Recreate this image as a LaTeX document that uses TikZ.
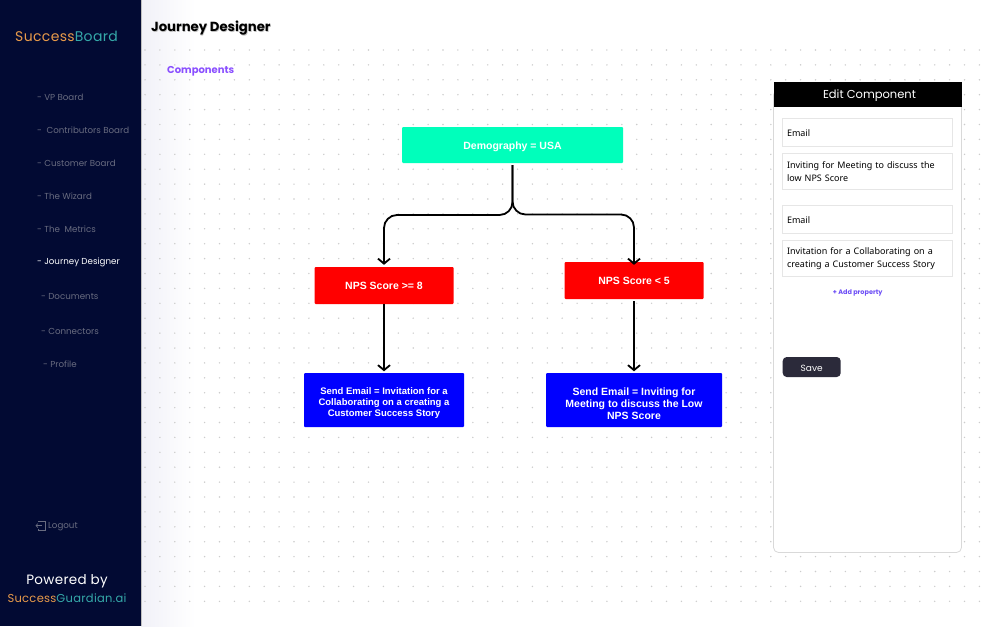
\documentclass[tikz,border=0pt]{standalone}
\usepackage{fontspec}
\setmainfont{Poppins}
\newfontfamily\logofont[LetterSpace=2.5]{Poppins}
\newfontfamily\panelfont{Noto Sans}
\newfontfamily\boxfont{Liberation Sans}
\usetikzlibrary{arrows.meta}

\definecolor{sidebarbg}{HTML}{020A33}
\definecolor{menugrey}{HTML}{696C80}
\definecolor{logoorange}{HTML}{E89A4A}
\definecolor{logoteal}{HTML}{35A9A9}
\definecolor{purplehead}{HTML}{8A4FFF}
\definecolor{purplelink}{HTML}{6C4DF6}
\definecolor{demogreen}{HTML}{00FFBB}
\definecolor{fieldline}{HTML}{E6E6E6}
\definecolor{savebg}{HTML}{2B2A3A}
\definecolor{griddot}{HTML}{CCCCCC}
\definecolor{fadegrey}{HTML}{F1F1F8}

\tikzset{
  flowbox/.style={rounded corners=1pt, text=white, align=center, inner sep=0pt,
    font=\boxfont\bfseries\fontsize{10.5}{12}\selectfont},
  demobox/.style={flowbox, fill=demogreen, minimum width=221pt, minimum height=36pt},
  scorebox/.style={flowbox, fill=red, minimum width=139pt, minimum height=37pt},
  sendbox/.style={flowbox, fill=blue, minimum height=54pt},
  menuitem/.style={anchor=west, inner sep=0pt, text=menugrey, font=\fontsize{8.7}{11}\selectfont},
  fieldbox/.style={draw=fieldline, line width=1pt, fill=white, minimum width=170pt, inner sep=0pt,
    text width=161pt, align=left, font=\panelfont\fontsize{9}{13}\selectfont},
  link/.style={draw=black, line width=1.8pt, -{Straight Barb[length=5pt,width=12pt]}},
}

\begin{document}
\begin{tikzpicture}[x=1pt, y=-1pt]
  \useasboundingbox (0,0) rectangle (1000,626);
  \fill[white] (0,0) rectangle (1000,626);
  \shade[left color=fadegrey, right color=white] (141,0) rectangle (195,626);

  % dotted canvas
  \foreach \i in {0,...,56} {
    \foreach \j in {0,...,37} {
      \fill[griddot] ({145+14.9*\i},{50+14.9*\j}) circle (0.8pt);
    }
  }

  % sidebar
  \fill[sidebarbg] (0,0) rectangle (140.5,626);
  \draw[black!25, line width=0.6pt] (140.8,0) -- (140.8,626);
  \node (logo) [anchor=west, inner sep=0pt, font=\logofont\fontsize{14}{16}\selectfont] at (15,36.5)
    {{\color{logoorange}Success}{\color{logoteal}Board}};
  \node (vp) [menuitem] at (37,97.7) {- VP Board};
  \node (contrib) [menuitem] at (37,130.7) {-\ \ Contributors Board};
  \node (customer) [menuitem] at (37,163.7) {- Customer Board};
  \node (wizard) [menuitem] at (37,196.7) {- The Wizard};
  \node (metrics) [menuitem] at (37,229.7) {- The\ \ Metrics};
  \node (journey) [menuitem, text=white] at (37,262.7) {- Journey Designer};
  \node (documents) [menuitem] at (41,296.7) {- Documents};
  \node (connectors) [menuitem] at (41,331.7) {- Connectors};
  \node (profile) [menuitem] at (43,364) {- Profile};
  \node (logout) [menuitem] at (48,526.5) {Logout};
  \draw[menugrey, line width=0.7pt] (38,522) -- (38,521) -- (45,521) -- (45,530) -- (38,530) -- (38,529);
  \draw[menugrey, line width=0.7pt, -{Straight Barb[length=2pt,width=4pt]}] (42,525.5) -- (35.5,525.5);
  \node (powered) [inner sep=0pt, text=white, font=\logofont\fontsize{13.5}{16}\selectfont] at (67,581.5) {Powered by};
  \node (guardian) [inner sep=0pt, font=\logofont\fontsize{11.5}{14}\selectfont] at (67,598.5)
    {{\color{logoorange}Success}{\color{logoteal}Guardian.ai}};

  % page titles
  \node [anchor=west, inner sep=0pt, text=black!25, font=\bfseries\fontsize{13.2}{16}\selectfont] at (151.6,29.2) {Journey Designer};
  \node (title) [anchor=west, inner sep=0pt, text=black, font=\bfseries\fontsize{13.2}{16}\selectfont] at (151,27.8) {Journey Designer};
  \node (components) [anchor=west, inner sep=0pt, text=purplehead, font=\bfseries\fontsize{10}{12}\selectfont] at (167,70.8) {Components};

  % flow
  \node (demo) [demobox] at (512.5,145) {\rule{0pt}{10.6pt}Demography = USA};
  \node (npshigh) [scorebox] at (384,285.5) {NPS Score >= 8};
  \node (npslow) [scorebox] at (634,280.5) {NPS Score < 5};
  \node (sendhigh) [sendbox, minimum width=160pt, font=\boxfont\bfseries\fontsize{9.5}{11}\selectfont] at (384,400)
    {\rule{0pt}{13pt}Send Email = Invitation for a\\Collaborating on a creating a\\Customer Success Story};
  \node (sendlow) [sendbox, minimum width=176pt] at (634,400)
    {\rule{0pt}{15pt}Send Email = Inviting for\\Meeting to discuss the Low\\NPS Score};

  \coordinate (forkhigh) at (npshigh.north |- 0,215);
  \coordinate (forklow) at (npslow.north |- 0,214.5);
  \draw [link, rounded corners=13pt, shorten <=2pt, shorten >=2pt] (demo.south) -- (demo.south |- forkhigh) -- (forkhigh) -- (npshigh.north);
  \draw [link, rounded corners=13pt, shorten <=2pt, shorten >=-3pt] (demo.south) -- (demo.south |- forklow) -- (forklow) -- (npslow.north);
  \draw [link, shorten >=1.5pt] (npshigh) -- (sendhigh);
  \draw [link, shorten <=2pt, shorten >=1.5pt] (npslow) -- (sendlow);

  % edit panel
  \draw[draw=black!15, fill=white, line width=0.8pt, rounded corners=5pt] (773.5,90) rectangle (961.5,552.5);
  \node (edithead) [fill=black, text=white, inner sep=0pt, minimum width=188pt, minimum height=25pt,
    font=\fontsize{11.5}{14}\selectfont] at (867.5,94) {\hspace*{4pt}\rule{0pt}{12pt}Edit Component};
  \node (fieldone) [fieldbox, minimum height=28pt] at (867.5,132.7) {\rule{0pt}{7.5pt}Email};
  \node (fieldtwo) [fieldbox, minimum height=36pt] at (867.5,171.5) {Inviting for Meeting to discuss the\\low NPS Score};
  \node (fieldthree) [fieldbox, minimum height=28pt] at (867.5,219.5) {\rule{0pt}{8.5pt}Email};
  \node (fieldfour) [fieldbox, minimum height=36pt] at (867.5,258.4) {Invitation for a Collaborating on a\\creating a Customer Success Story};
  \node (addprop) [inner sep=0pt, text=purplelink, font=\bfseries\fontsize{6.5}{8}\selectfont] at (857.7,293) {+ Add property};
  \node (save) [fill=savebg, text=white, rounded corners=4pt, inner sep=0pt, minimum width=58pt, minimum height=20pt,
    font=\fontsize{9}{11}\selectfont] at (811.7,367) {\rule{0pt}{9pt}Save};
\end{tikzpicture}
\end{document}
